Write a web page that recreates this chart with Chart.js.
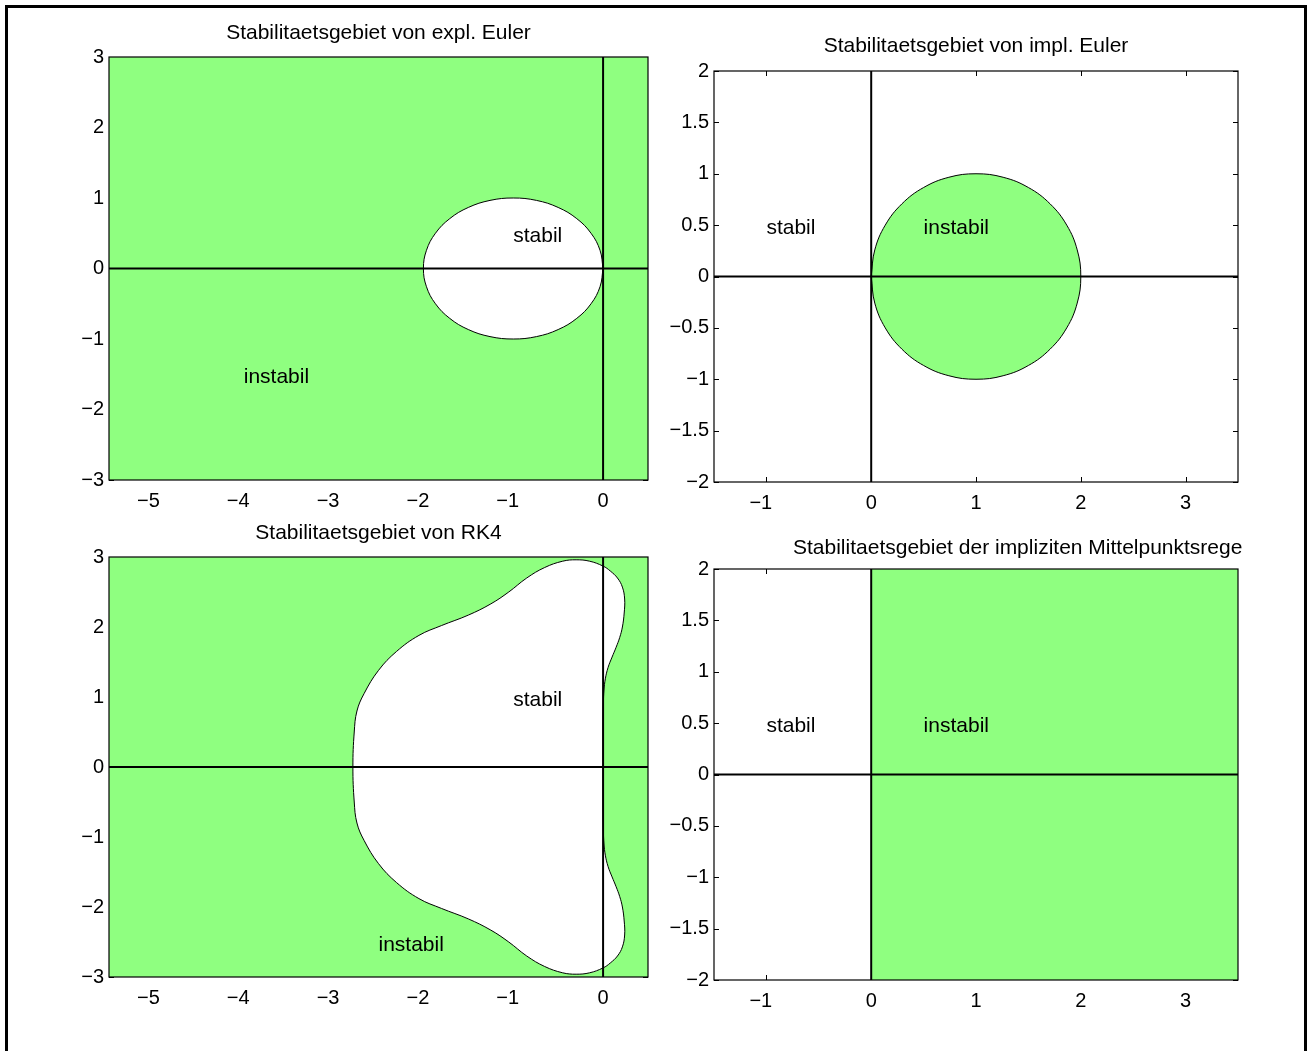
<!DOCTYPE html>
<html>
<head>
<meta charset="utf-8">
<script src="https://cdn.jsdelivr.net/npm/chart.js@4/dist/chart.umd.min.js"></script>
<style>
  body { margin: 0; background: #fff; width: 1312px; height: 1051px; overflow: hidden; position: relative; }
  #frame { position: absolute; left: 5px; top: 5px; width: 1296px; height: 1100px; border: 3px solid #000; border-bottom: none; }
  .plot { position: absolute; }
</style>
</head>
<body>
<div id="frame"></div>
<div class="plot"><canvas id="expl"></canvas></div>
<div class="plot"><canvas id="impl"></canvas></div>
<div class="plot"><canvas id="rk4"></canvas></div>
<div class="plot"><canvas id="mid"></canvas></div>
<script>
const GREEN = '#8fff80'
const FONT = 'Liberation Sans, Arial, Helvetica, sans-serif'

// tick values
const wideTicksX = [-5, -4, -3, -2, -1, 0]
const wideTicksY = [-3, -2, -1, 0, 1, 2, 3]
const narrowTicksX = [-1, 0, 1, 2, 3]
const narrowTicksY = [-2, -1.5, -1, -0.5, 0, 0.5, 1, 1.5, 2]

// axis ranges
const wideRangeX = [-5.5, 0.5]
const wideRangeY = [-3, 3]
const narrowRangeX = [-1.5, 3.5]
const narrowRangeY = [-2, 2]

// boundary of the expl. Euler region
const explEulerX = [0, -0.0341, -0.134, -0.2929, -0.5, -0.7412, -1, -1.2588, -1.5, -1.7071, -1.866, -1.9659, -2,
  -1.9659, -1.866, -1.7071, -1.5, -1.2588, -1, -0.7412, -0.5, -0.2929, -0.134, -0.0341, 0]
const explEulerY = [0, 0.2588, 0.5, 0.7071, 0.866, 0.9659, 1, 0.9659, 0.866, 0.7071, 0.5, 0.2588, 0,
  -0.2588, -0.5, -0.7071, -0.866, -0.9659, -1, -0.9659, -0.866, -0.7071, -0.5, -0.2588, 0]

// boundary of the impl. Euler region
const implEulerX = [0, 0.0341, 0.134, 0.2929, 0.5, 0.7412, 1, 1.2588, 1.5, 1.7071, 1.866, 1.9659, 2,
  1.9659, 1.866, 1.7071, 1.5, 1.2588, 1, 0.7412, 0.5, 0.2929, 0.134, 0.0341, 0]
const implEulerY = [0, 0.2588, 0.5, 0.7071, 0.866, 0.9659, 1, 0.9659, 0.866, 0.7071, 0.5, 0.2588, 0,
  -0.2588, -0.5, -0.7071, -0.866, -0.9659, -1, -0.9659, -0.866, -0.7071, -0.5, -0.2588, 0]

// boundary of the RK4 region
const rk4X = [0, 0, 0.003, 0.01, 0.025, 0.055, 0.1, 0.145, 0.185, 0.215, 0.235, 0.24, 0.215, 0.16, 0.08, 0,
  -0.15, -0.3, -0.45, -0.65, -0.85, -1.05, -1.25, -1.5, -1.8, -2.05, -2.3, -2.5, -2.66, -2.74, -2.77, -2.785,
  -2.77, -2.74, -2.66, -2.5, -2.3, -2.05, -1.8, -1.5, -1.25, -1.05, -0.85, -0.65, -0.45, -0.3, -0.15,
  0, 0.08, 0.16, 0.215, 0.24, 0.235, 0.215, 0.185, 0.145, 0.1, 0.055, 0.025, 0.01, 0.003, 0, 0]
const rk4Y = [0, 0.6, 0.9, 1.1, 1.26, 1.42, 1.57, 1.71, 1.85, 2, 2.2, 2.4, 2.57, 2.7, 2.8, 2.87,
  2.94, 2.96, 2.94, 2.85, 2.7, 2.5, 2.33, 2.17, 2.02, 1.88, 1.65, 1.38, 1.05, 0.8, 0.5, 0,
  -0.5, -0.8, -1.05, -1.38, -1.65, -1.88, -2.02, -2.17, -2.33, -2.5, -2.7, -2.85, -2.94, -2.96, -2.94,
  -2.87, -2.8, -2.7, -2.57, -2.4, -2.2, -2, -1.85, -1.71, -1.57, -1.42, -1.26, -1.1, -0.9, -0.6, 0]

// unstable half plane of the implicit midpoint rule
const midX = [0, 3.5, 3.5, 0, 0]
const midY = [-2, -2, 2, 2, -2]

// text labels in data coordinates
const explLabels = [{ text: 'stabil', x: -1, y: 0.5 }, { text: 'instabil', x: -4, y: -1.5 }]
const implLabels = [{ text: 'stabil', x: -1, y: 0.5 }, { text: 'instabil', x: 0.5, y: 0.5 }]
const rk4Labels = [{ text: 'stabil', x: -1, y: 1 }, { text: 'instabil', x: -2.5, y: -2.5 }]
const midLabels = [{ text: 'stabil', x: -1, y: 0.5 }, { text: 'instabil', x: 0.5, y: 0.5 }]

const zip = (xs, ys) => xs.map((x, i) => ({ x: x, y: ys[i] }))
const rect = (rx, ry) => [{ x: rx[0], y: ry[0] }, { x: rx[1], y: ry[0] }, { x: rx[1], y: ry[1] }, { x: rx[0], y: ry[1] }, { x: rx[0], y: ry[0] }]
const fmt = v => String(v).replace('-', '\u2212')
// matlab centres the digits, the minus hangs out to the left
const fmtX = v => v < 0 ? fmt(v) + '  ' : fmt(v)

function patch(points, color, border, order, tension) {
  return { data: points, backgroundColor: color, borderColor: border ? '#000' : 'rgba(0,0,0,0)',
    borderWidth: border ? 1 : 0, fill: 'shape', tension: tension, order: order }
}
function axisLines(rx, ry) {
  return [
    { data: [{ x: rx[0], y: 0 }, { x: rx[1], y: 0 }], borderColor: '#000', borderWidth: 2, fill: false, order: 0 },
    { data: [{ x: 0, y: ry[0] }, { x: 0, y: ry[1] }], borderColor: '#000', borderWidth: 2, fill: false, order: 0 }
  ]
}

const matlabBox = {
  id: 'matlabBox',
  beforeDatasetsDraw(chart) {
    // inward ticks on all four sides, below the patches
    const { ctx, chartArea: a, scales: { x, y } } = chart
    ctx.save()
    ctx.strokeStyle = '#000'
    ctx.lineWidth = 1
    ctx.beginPath()
    x.ticks.forEach(t => {
      const px = Math.round(x.getPixelForValue(t.value)) + 0.5
      ctx.moveTo(px, a.top); ctx.lineTo(px, a.top + 5)
      ctx.moveTo(px, a.bottom); ctx.lineTo(px, a.bottom - 5)
    })
    y.ticks.forEach(t => {
      const py = Math.round(y.getPixelForValue(t.value)) + 0.5
      ctx.moveTo(a.left, py); ctx.lineTo(a.left + 5, py)
      ctx.moveTo(a.right, py); ctx.lineTo(a.right - 5, py)
    })
    ctx.stroke()
    ctx.restore()
  },
  afterDatasetsDraw(chart, args, opts) {
    const { ctx, chartArea: a, scales: { x, y } } = chart
    ctx.save()
    ctx.fillStyle = '#000'
    ctx.font = '21px ' + FONT
    ctx.textAlign = 'left'
    ctx.textBaseline = 'middle'
    opts.labels.forEach(l => ctx.fillText(l.text, x.getPixelForValue(l.x), y.getPixelForValue(l.y) + 3))
    ctx.strokeStyle = '#000'
    ctx.lineWidth = 1.2
    ctx.strokeRect(a.left, a.top, a.right - a.left, a.bottom - a.top)
    // title
    if (opts.titleLeft != null) {
      ctx.textAlign = 'left'
      ctx.fillText(opts.title, a.left + opts.titleLeft, a.top - opts.titleUp)
    } else {
      ctx.textAlign = 'center'
      ctx.fillText(opts.title, (a.left + a.right) / 2, a.top - opts.titleUp)
    }
    ctx.restore()
  }
}

function makePlot(id, box, rx, ry, tx, ty, datasets, extra) {
  const canvas = document.getElementById(id)
  canvas.width = 60 + box.w + 15
  canvas.height = 40 + box.h + 40
  const tickFont = { family: FONT, size: 20 }
  const chart = new Chart(canvas, {
    type: 'line',
    data: { datasets: datasets },
    options: {
      responsive: false,
      animation: false,
      events: [],
      layout: { padding: { top: 40, right: 15, bottom: 0, left: 0 } },
      elements: { point: { radius: 0 } },
      plugins: { legend: { display: false }, tooltip: { enabled: false }, matlabBox: extra },
      scales: {
        x: {
          type: 'linear', min: rx[0], max: rx[1],
          afterBuildTicks: s => { s.ticks = tx.map(v => ({ value: v })) },
          afterFit: s => { s.height = 40 },
          grid: { drawOnChartArea: false, drawTicks: false },
          border: { display: false },
          ticks: { font: tickFont, color: '#000', padding: 9, maxRotation: 0, autoSkip: false, callback: fmtX }
        },
        y: {
          type: 'linear', min: ry[0], max: ry[1],
          afterBuildTicks: s => { s.ticks = ty.map(v => ({ value: v })) },
          afterFit: s => { s.width = 60 },
          grid: { drawOnChartArea: false, drawTicks: false },
          border: { display: false },
          ticks: { font: tickFont, color: '#000', padding: 5, autoSkip: false, callback: fmt }
        }
      }
    },
    plugins: [matlabBox]
  })
  const wrap = canvas.parentNode
  wrap.style.left = (box.x - chart.chartArea.left) + 'px'
  wrap.style.top = (box.y - chart.chartArea.top) + 'px'
}

makePlot('expl', { x: 109, y: 57, w: 539, h: 423 }, wideRangeX, wideRangeY, wideTicksX, wideTicksY, [
  ...axisLines(wideRangeX, wideRangeY),
  patch(zip(explEulerX, explEulerY), '#fff', true, 2, 0.4),
  patch(rect(wideRangeX, wideRangeY), GREEN, false, 3, 0)
], { title: 'Stabilitaetsgebiet von expl. Euler', titleUp: 24, labels: explLabels })

makePlot('impl', { x: 714, y: 71, w: 524, h: 411 }, narrowRangeX, narrowRangeY, narrowTicksX, narrowTicksY, [
  ...axisLines(narrowRangeX, narrowRangeY),
  patch(zip(implEulerX, implEulerY), GREEN, true, 2, 0.4)
], { title: 'Stabilitaetsgebiet von impl. Euler', titleUp: 25, labels: implLabels })

makePlot('rk4', { x: 109, y: 557, w: 539, h: 420 }, wideRangeX, wideRangeY, wideTicksX, wideTicksY, [
  ...axisLines(wideRangeX, wideRangeY),
  patch(zip(rk4X, rk4Y), '#fff', true, 2, 0.4),
  patch(rect(wideRangeX, wideRangeY), GREEN, false, 3, 0)
], { title: 'Stabilitaetsgebiet von RK4', titleUp: 24, labels: rk4Labels })

makePlot('mid', { x: 714, y: 569, w: 524, h: 411 }, narrowRangeX, narrowRangeY, narrowTicksX, narrowTicksY, [
  ...axisLines(narrowRangeX, narrowRangeY),
  patch(zip(midX, midY), GREEN, false, 2, 0)
], { title: 'Stabilitaetsgebiet der impliziten Mittelpunktsrege', titleUp: 21, titleLeft: 79, labels: midLabels })
</script>
</body>
</html>
